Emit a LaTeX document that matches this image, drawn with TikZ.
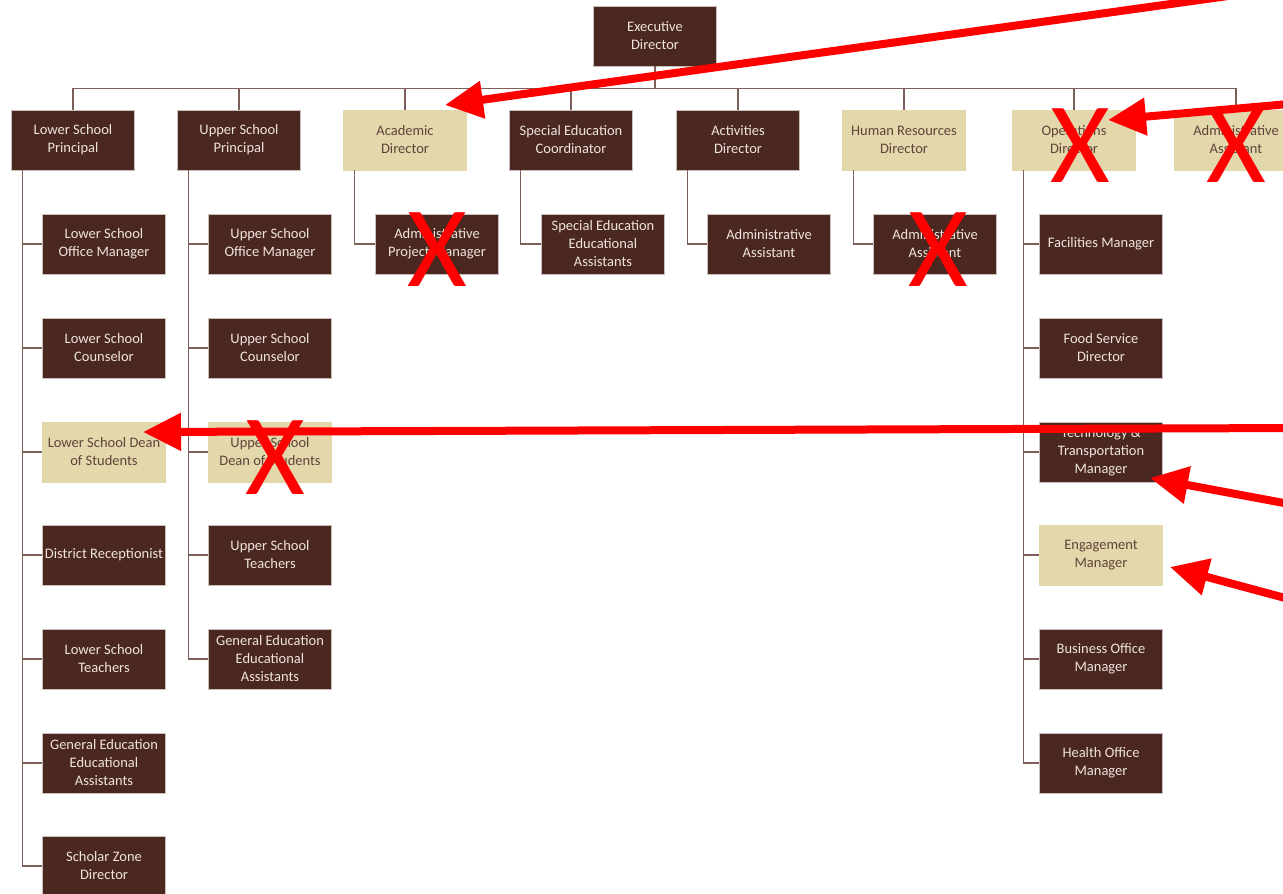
\documentclass[tikz,border=0pt]{standalone}
\usepackage{fontspec}
\setmainfont{Carlito}
\usetikzlibrary{arrows.meta}
\definecolor{boxbrown}{RGB}{75,40,31}
\definecolor{boxtan}{RGB}{227,215,172}
\definecolor{lighttext}{RGB}{238,228,222}
\definecolor{darktext}{RGB}{95,68,58}
\definecolor{linkgray}{RGB}{125,95,90}
\definecolor{edgegray}{RGB}{200,190,186}
\tikzset{
  role/.style={rectangle, minimum width=123pt, minimum height=60pt, inner sep=2pt, align=center, line width=0.6pt, font=\fontsize{14.5}{18}\selectfont},
  filled/.style={role, fill=boxbrown, draw=edgegray, text=lighttext},
  vacant/.style={role, fill=boxtan, draw=boxtan, text=darktext},
  link/.style={draw=linkgray, line width=1.4pt},
  redarrow/.style={draw=red, line width=8pt, -{Triangle[length=38pt,width=36pt]}},
  cross/.style={text=red, inner sep=0pt, font=\fontsize{115}{115}\selectfont}
}

\begin{document}
\begin{tikzpicture}[x=1pt,y=-1pt]
\useasboundingbox (0,0) rectangle (1283,894);
\clip (0,0) rectangle (1283,894);

\node[filled] (exec) at (655,36) {Executive\\Director};

\node[filled] (lsp) at (73,140) {Lower School\\Principal};
\node[filled] (usp) at (239,140) {Upper School\\Principal};
\node[vacant] (acad) at (405,140) {Academic\\Director};
\node[filled] (sped) at (571,140) {Special Education\\Coordinator};
\node[filled] (activ) at (738,140) {Activities\\Director};
\node[vacant] (hr) at (904,140) {Human Resources\\Director};
\node[vacant] (ops) at (1074,140) {Operations\\Director};
\node[vacant] (execasst) at (1236,140) {Administrative\\Assistant};

% lower school
\node[filled] (lsoffice) at (104,244) {Lower School\\Office Manager};
\node[filled] (lscouns) at (104,348) {Lower School\\Counselor};
\node[vacant] (lsdean) at (104,452) {Lower School Dean\\of Students};
\node[filled] (recept) at (104,555) {District Receptionist};
\node[filled] (lsteach) at (104,659) {Lower School\\Teachers};
\node[filled] (lsgenea) at (104,763) {General Education\\Educational\\Assistants};
\node[filled] (scholar) at (104,866) {Scholar Zone\\Director};

% upper school
\node[filled] (usoffice) at (270,244) {Upper School\\Office Manager};
\node[filled] (uscouns) at (270,348) {Upper School\\Counselor};
\node[vacant] (usdean) at (270,452) {Upper School\\Dean of Students};
\node[filled] (usteach) at (270,555) {Upper School\\Teachers};
\node[filled] (usgenea) at (270,659) {General Education\\Educational\\Assistants};

\node[filled] (acadpm) at (437,244) {Administrative\\Project Manager};
\node[filled] (spedea) at (603,244) {Special Education\\Educational\\Assistants};
\node[filled] (activasst) at (769,244) {Administrative\\Assistant};
\node[filled] (hrasst) at (935,244) {Administrative\\Assistant};

% operations
\node[filled] (facil) at (1101,244) {Facilities Manager};
\node[filled] (food) at (1101,348) {Food Service\\Director};
\node[filled] (tech) at (1101,452) {Technology \&\\Transportation\\Manager};
\node[vacant] (engage) at (1101,555) {Engagement\\Manager};
\node[filled] (business) at (1101,659) {Business Office\\Manager};
\node[filled] (health) at (1101,763) {Health Office\\Manager};

\draw[link] (exec.south) -- ++(0,22) -| (lsp.north);
\draw[link] (exec.south) -- ++(0,22) -| (usp.north);
\draw[link] (exec.south) -- ++(0,22) -| (acad.north);
\draw[link] (exec.south) -- ++(0,22) -| (sped.north);
\draw[link] (exec.south) -- ++(0,22) -| (activ.north);
\draw[link] (exec.south) -- ++(0,22) -| (hr.north);
\draw[link] (exec.south) -- ++(0,22) -| (ops.north);
\draw[link] (exec.south) -- ++(0,22) -| (execasst.north);

\draw[link] ([xshift=11pt]lsp.south west) |- (lsoffice.west);
\draw[link] ([xshift=11pt]lsp.south west) |- (lscouns.west);
\draw[link] ([xshift=11pt]lsp.south west) |- (lsdean.west);
\draw[link] ([xshift=11pt]lsp.south west) |- (recept.west);
\draw[link] ([xshift=11pt]lsp.south west) |- (lsteach.west);
\draw[link] ([xshift=11pt]lsp.south west) |- (lsgenea.west);
\draw[link] ([xshift=11pt]lsp.south west) |- (scholar.west);

\draw[link] ([xshift=11pt]usp.south west) |- (usoffice.west);
\draw[link] ([xshift=11pt]usp.south west) |- (uscouns.west);
\draw[link] ([xshift=11pt]usp.south west) |- (usdean.west);
\draw[link] ([xshift=11pt]usp.south west) |- (usteach.west);
\draw[link] ([xshift=11pt]usp.south west) |- (usgenea.west);

\draw[link] ([xshift=11pt]acad.south west) |- (acadpm.west);
\draw[link] ([xshift=11pt]sped.south west) |- (spedea.west);
\draw[link] ([xshift=11pt]activ.south west) |- (activasst.west);
\draw[link] ([xshift=11pt]hr.south west) |- (hrasst.west);

\draw[link] ([xshift=11pt]ops.south west) |- (facil.west);
\draw[link] ([xshift=11pt]ops.south west) |- (food.west);
\draw[link] ([xshift=11pt]ops.south west) |- (tech.west);
\draw[link] ([xshift=11pt]ops.south west) |- (engage.west);
\draw[link] ([xshift=11pt]ops.south west) |- (business.west);
\draw[link] ([xshift=11pt]ops.south west) |- (health.west);

% red marks
\node[cross] (xacad) at (437,250) {X};
\node[cross] (xhr) at (938,250) {X};
\node[cross] (xops) at (1080,146) {X};
\node[cross] (xasst) at (1236,146) {X};
\node[cross] (xdean) at (275,458) {X};

\coordinate (tailA) at (1300,-14);
\coordinate (tipA) at (445,105);
\coordinate (tailB) at (1300,103);
\coordinate (tipB) at (1108,120);
\coordinate (tailC) at (1300,428);
\coordinate (tipC) at (143,432);
\coordinate (tailD) at (1300,506);
\coordinate (tipD) at (1150,478);
\coordinate (tailE) at (1300,602);
\coordinate (tipE) at (1170,567);

\draw[redarrow] (tailA) -- (tipA);
\draw[redarrow] (tailB) -- (tipB);
\draw[redarrow] (tailC) -- (tipC);
\draw[redarrow] (tailD) -- (tipD);
\draw[redarrow] (tailE) -- (tipE);
\end{tikzpicture}
\end{document}
